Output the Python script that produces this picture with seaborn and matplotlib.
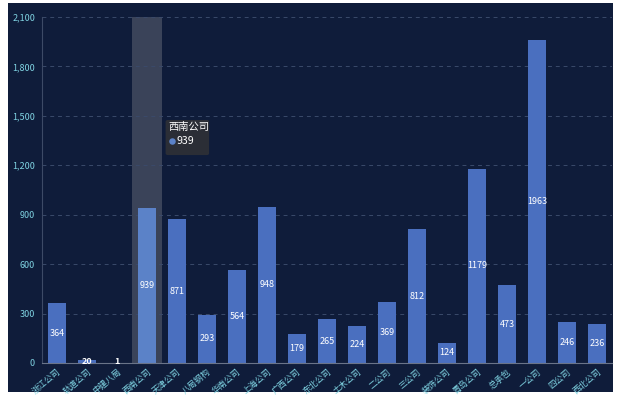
import matplotlib
matplotlib.use("Agg")
import matplotlib.pyplot as plt
import matplotlib.patches as mpatches
import matplotlib.ticker as mticker
import seaborn as sns
import pandas as pd

categories = ["浙江公司", "轨道公司", "中建八局", "西南公司", "天津公司", "八局钢构", "华南公司",
              "上海公司", "广西公司", "东北公司", "土木公司", "二公司", "三公司", "装饰公司",
              "青岛公司", "总承包", "一公司", "四公司", "西北公司"]
values = [364, 20, 1, 939, 871, 293, 564, 948, 179, 265, 224, 369, 812, 124, 1179, 473, 1963, 246, 236]
y_ticks = [0, 300, 600, 900, 1200, 1500, 1800, 2100]
highlight = "西南公司"

sns.set_theme(style="dark")
plt.rcParams['font.family'] = ['Noto Sans CJK SC', 'DejaVu Sans']

BG = "#0f1c3a"
BAR = "#4a6fbf"
BAR_HI = "#5b82c8"
TICK = "#7fd3e2"

df = pd.DataFrame({"cat": categories, "val": values})
palette = {c: (BAR_HI if c == highlight else BAR) for c in categories}

fig = plt.figure(figsize=(6.18, 3.95), dpi=100, facecolor="white")
bg = fig.add_axes([8 / 618, 3 / 395, (613 - 8) / 618, (392 - 3) / 395], zorder=-10)
bg.set_facecolor(BG)
bg.set_xticks([]); bg.set_yticks([])
for s in bg.spines.values():
    s.set_visible(False)

ax = fig.add_axes([42 / 618, 1 - 363 / 395, (612 - 42) / 618, (363 - 17) / 395], zorder=1)
ax.set_facecolor("none")

hi_idx = categories.index(highlight)
ax.axvspan(hi_idx - 0.5, hi_idx + 0.5, color="#3a4359", zorder=0, lw=0)

sns.barplot(data=df, x="cat", y="val", hue="cat", palette=palette, legend=False,
            width=0.58, ax=ax, saturation=1, zorder=2, edgecolor="none", linewidth=0)

for i, v in enumerate(values):
    ax.text(i, max(v / 2, 8), str(v), ha="center", va="center", color="white", fontsize=6.5,
            fontweight="bold" if v < 30 else "normal", zorder=3)

ax.set_ylim(0, 2100)
ax.set_xlim(-0.5, len(categories) - 0.5)
ax.set_yticks(y_ticks)
ax.yaxis.set_major_formatter(mticker.FuncFormatter(lambda v, p: f"{int(v):,}"))
ax.grid(axis="y", color="#3a4a6a", linestyle=(0, (4, 4)), linewidth=0.7, zorder=1)
ax.grid(axis="x", visible=False)
ax.set_axisbelow(True)
ax.set_xlabel("")
ax.set_ylabel("")

for s in ["top", "right"]:
    ax.spines[s].set_visible(False)
ax.spines["left"].set_visible(True)
ax.spines["left"].set_color("#3d4a66")
ax.spines["left"].set_linewidth(0.8)
ax.spines["bottom"].set_visible(True)
ax.spines["bottom"].set_color("#6a7489")
ax.spines["bottom"].set_linewidth(0.8)

ax.tick_params(axis="y", colors=TICK, labelsize=6.5, length=3, width=0.6, pad=2, labelcolor=TICK)
ax.tick_params(axis="y", color="#3d4a66")
ax.tick_params(axis="x", colors=TICK, labelsize=6.1, length=2.5, width=0.6, pad=0.5)
ax.tick_params(axis="x", color="#6a7489")
plt.setp(ax.get_xticklabels(), rotation=40, ha="right", rotation_mode="anchor", fontweight="medium")

# tooltip
ax.add_patch(mpatches.FancyBboxPatch((3.62, 1262), 1.45, 213,
                                     boxstyle="round,pad=0,rounding_size=0.08",
                                     mutation_aspect=120,
                                     facecolor="#2b2e36", edgecolor="none", zorder=4))
ax.text(3.72, 1435, "西南公司", color="white", fontsize=7.4, va="center", ha="left", zorder=5)
ax.scatter([3.82], [1345], s=22, color=BAR_HI, zorder=6, linewidths=0)
ax.text(3.97, 1345, "939", color="white", fontsize=7.6, va="center", ha="left", zorder=6)

fig.savefig("out.png", dpi=100, facecolor="white")
